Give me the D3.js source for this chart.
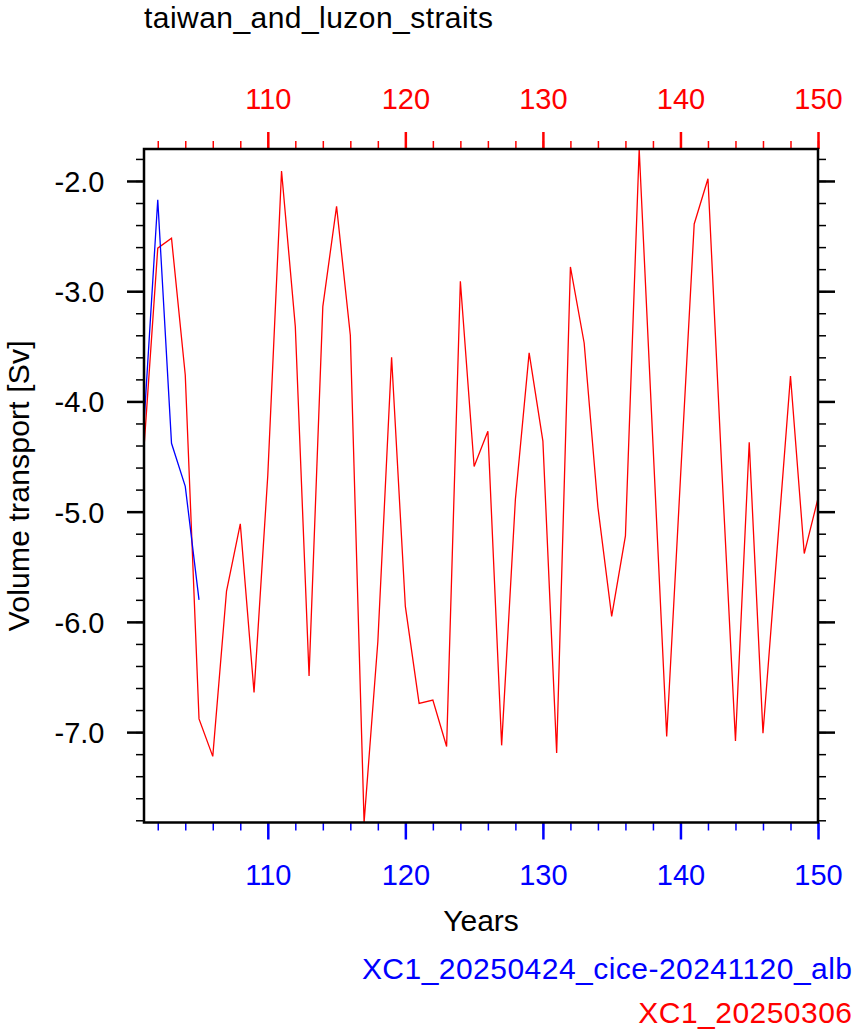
<!DOCTYPE html>
<html>
<head>
<meta charset="utf-8">
<script src="https://cdn.jsdelivr.net/npm/d3@7"></script>
<style>
  html, body { margin: 0; padding: 0; background: #fff; }
  svg { display: block; font-family: "Liberation Sans", Arial, Helvetica, sans-serif; }
</style>
</head>
<body>
<svg id="chart" width="858" height="1035"></svg>
<script>
// ---- data ----
const redYears = d3.range(101, 151);
const redValues = [
  -4.42, -2.61, -2.52, -3.76, -6.88, -7.22, -5.72, -5.11, -6.64, -4.67,
  -1.91, -3.32, -6.49, -3.14, -2.23, -3.40, -7.82, -6.18, -3.60, -5.86,
  -6.74, -6.71, -7.13, -2.91, -4.59, -4.27, -7.12, -4.89, -3.56, -4.36,
  -7.19, -2.78, -3.47, -4.96, -5.95, -5.22, -1.71, -4.38, -7.04, -4.70,
  -2.39, -1.98, -4.60, -7.08, -4.37, -7.01, -5.39, -3.77, -5.38, -4.88
];
const blueYears = [101, 102, 103, 104, 105];
const blueValues = [-4.20, -2.17, -4.38, -4.77, -5.80];
const xMajorTicks = [110, 120, 130, 140, 150];
const xMinorTicks = d3.range(102, 151, 2);
const yMajorTicks = [-7.0, -6.0, -5.0, -4.0, -3.0, -2.0];
const yMinorTicks = d3.range(-7.8, -1.75, 0.2).map(v => +v.toFixed(1));
const titleText = "taiwan_and_luzon_straits";
const xTitle = "Years";
const yTitle = "Volume transport [Sv]";
const legendNames = ["XC1_20250424_cice-20241120_alb", "XC1_20250306"];
const legendColors = ["#0000ff", "#ff0000"];

// ---- layout ----
const L = 144, R = 818, T = 149, B = 822.5;
const svg = d3.select("#chart");

const x = d3.scaleLinear().domain([101, 150]).range([L, R]);
const allVals = redValues.concat(blueValues);
const y = d3.scaleLinear().domain(d3.extent(allVals)).range([B, T]);

const FS = 29;

function styleAxis(g, color, width) {
  g.select(".domain").remove();
  g.selectAll(".tick line").attr("stroke", color).attr("stroke-width", width);
}

// bottom axis (blue)
const bMinor = svg.append("g").attr("transform", `translate(0,${B})`)
  .call(d3.axisBottom(x).tickValues(xMinorTicks).tickSize(8).tickFormat(""));
styleAxis(bMinor, "#0000ff", 1.5);
const bMajor = svg.append("g").attr("transform", `translate(0,${B})`)
  .call(d3.axisBottom(x).tickValues(xMajorTicks).tickSize(17).tickFormat(d3.format("d")));
styleAxis(bMajor, "#0000ff", 2.5);
bMajor.selectAll(".tick text").attr("y", 885 - B).attr("dy", null)
  .attr("fill", "#0000ff").style("font-size", FS + "px").attr("font-family", null);

// top axis (red)
const tMinor = svg.append("g").attr("transform", `translate(0,${T})`)
  .call(d3.axisTop(x).tickValues(xMinorTicks).tickSize(8).tickFormat(""));
styleAxis(tMinor, "#ff0000", 1.5);
const tMajor = svg.append("g").attr("transform", `translate(0,${T})`)
  .call(d3.axisTop(x).tickValues(xMajorTicks).tickSize(17).tickFormat(d3.format("d")));
styleAxis(tMajor, "#ff0000", 2.5);
tMajor.selectAll(".tick text").attr("y", 109 - T).attr("dy", null)
  .attr("fill", "#ff0000").style("font-size", FS + "px").attr("font-family", null);

// left axis
const lMinor = svg.append("g").attr("transform", `translate(${L},0)`)
  .call(d3.axisLeft(y).tickValues(yMinorTicks).tickSize(8).tickFormat(""));
styleAxis(lMinor, "#000", 1.5);
const lMajor = svg.append("g").attr("transform", `translate(${L},0)`)
  .call(d3.axisLeft(y).tickValues(yMajorTicks).tickSize(17).tickFormat(d => d.toFixed(1)));
styleAxis(lMajor, "#000", 2.5);
lMajor.selectAll(".tick text").attr("x", 104.5 - L).attr("dy", "0.36em")
  .attr("fill", "#000").style("font-size", FS + "px").attr("font-family", null);

// right axis
const rMinor = svg.append("g").attr("transform", `translate(${R},0)`)
  .call(d3.axisRight(y).tickValues(yMinorTicks).tickSize(8).tickFormat(""));
styleAxis(rMinor, "#000", 1.5);
const rMajor = svg.append("g").attr("transform", `translate(${R},0)`)
  .call(d3.axisRight(y).tickValues(yMajorTicks).tickSize(17).tickFormat(""));
styleAxis(rMajor, "#000", 2.5);

// lines
const line = d3.line().x(d => x(d[0])).y(d => y(d[1]));
svg.append("path")
  .datum(redYears.map((yr, i) => [yr, redValues[i]]))
  .attr("d", line).attr("fill", "none").attr("stroke", "#ff0000").attr("stroke-width", 1.3);
svg.append("path")
  .datum(blueYears.map((yr, i) => [yr, blueValues[i]]))
  .attr("d", line).attr("fill", "none").attr("stroke", "#0000ff").attr("stroke-width", 1.3);

// frame
svg.append("rect").attr("x", L).attr("y", T).attr("width", R - L).attr("height", B - T)
  .attr("fill", "none").attr("stroke", "#000").attr("stroke-width", 2.5);

// titles
svg.append("text").attr("x", 144).attr("y", 28).attr("font-size", 30)
  .attr("letter-spacing", "0.45px").attr("fill", "#000").text(titleText);
svg.append("text").attr("x", 481).attr("y", 931).attr("text-anchor", "middle")
  .attr("font-size", 30).attr("fill", "#000").text(xTitle);
svg.append("text").attr("transform", `translate(28.5,${(T + B) / 2}) rotate(-90)`)
  .attr("text-anchor", "middle").attr("font-size", 30).attr("letter-spacing", "0.2px")
  .attr("fill", "#000").text(yTitle);

// legend labels
const legendY = [979, 1023];
legendNames.forEach((name, i) => {
  svg.append("text").attr("x", 852.5).attr("y", legendY[i]).attr("text-anchor", "end")
    .attr("font-size", 30).attr("letter-spacing", "0.47px")
    .attr("fill", legendColors[i]).text(name);
});
</script>
</body>
</html>
